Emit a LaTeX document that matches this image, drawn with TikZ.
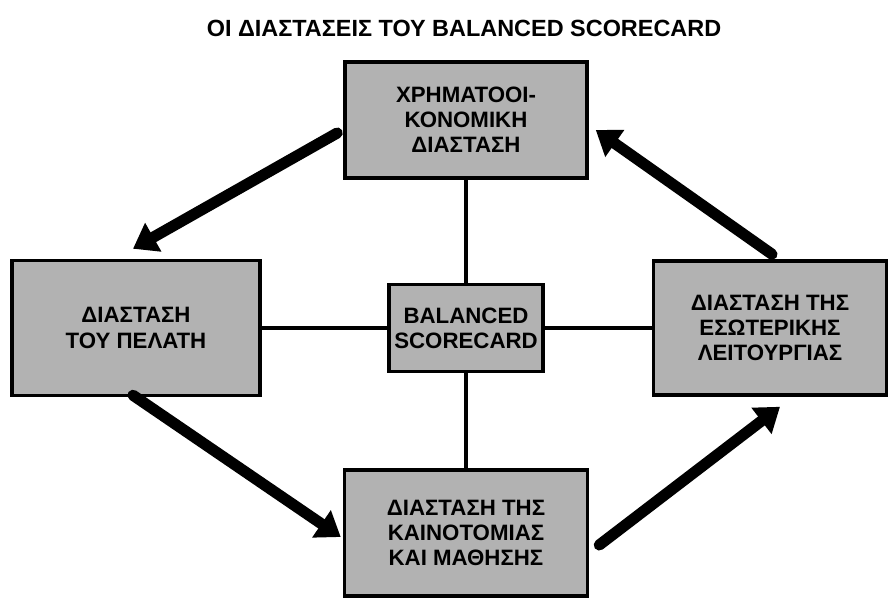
\documentclass[tikz,border=0pt]{standalone}
\usepackage{fontspec}
\setmainfont{Liberation Sans}
\usetikzlibrary{arrows.meta,calc}

\begin{document}
\begin{tikzpicture}[x=0.03cm,y=0.03cm,font=\bfseries]
\tikzstyle{dim}=[rectangle,draw,line width=3pt,fill=black!30,align=center,font=\bfseries\fontsize{19}{21.5}\selectfont]
\tikzstyle{link}=[line width=3pt]
\tikzstyle{flow}=[line width=9.5pt,line cap=round,-{Triangle[length=0.7cm,width=0.95cm]}]
\useasboundingbox (0,0) rectangle (890,-600);
\node[font=\bfseries\fontsize{20}{24}\selectfont] (title) at (464,-28) {ΟΙ ΔΙΑΣΤΑΣΕΙΣ ΤΟΥ BALANCED SCORECARD};
\node[dim,minimum width=7.26cm,minimum height=3.48cm] (fin) at (466,-120) {ΧΡΗΜΑΤΟΟΙ-\\ΚΟΝΟΜΙΚΗ\\ΔΙΑΣΤΑΣΗ};
\node[dim,minimum width=7.44cm,minimum height=4.05cm] (cust) at (136,-328) {ΔΙΑΣΤΑΣΗ\\ΤΟΥ ΠΕΛΑΤΗ};
\node[dim,minimum width=4.62cm,minimum height=2.61cm] (core) at (466,-328) {BALANCED\\SCORECARD};
\node[dim,minimum width=6.99cm,minimum height=4.02cm] (proc) at (770,-328) {ΔΙΑΣΤΑΣΗ ΤΗΣ\\ΕΣΩΤΕΡΙΚΗΣ\\ΛΕΙΤΟΥΡΓΙΑΣ};
\node[dim,minimum width=7.29cm,minimum height=3.78cm] (learn) at (466,-533) {ΔΙΑΣΤΑΣΗ ΤΗΣ\\ΚΑΙΝΟΤΟΜΙΑΣ\\ΚΑΙ ΜΑΘΗΣΗΣ};
% spokes to the centre
\draw[link] (fin.south) -- (core.north);
\draw[link] (core.west) -- (cust.east);
\draw[link] (core.east) -- (proc.west);
\draw[link] (core.south) -- (learn.north);
% the cycle
\draw[flow] ($(fin.west)+(-6,-13)$) -- ($(cust.north)+(-3,10)$);
\draw[flow] ($(cust.south)+(-3,2)$) -- ($(learn.west)+(-2,-4)$);
\draw[flow] ($(learn.east)+(10,-12)$) -- ($(proc.south)+(10,-10)$);
\draw[flow] ($(proc.north)+(2,5)$) -- ($(fin.east)+(7,-10)$);
\end{tikzpicture}
\end{document}
